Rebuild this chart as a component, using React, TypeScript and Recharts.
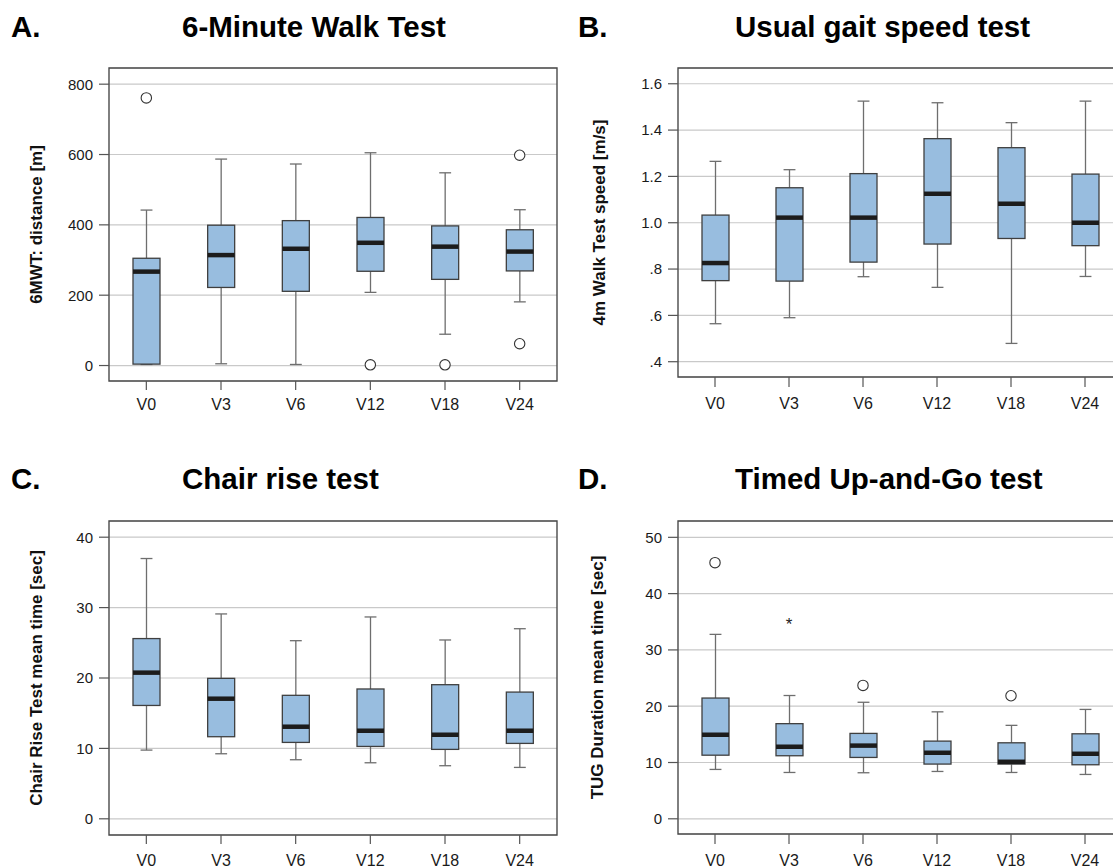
import React from 'react';
import { ComposedChart, Bar, Scatter, XAxis, YAxis, CartesianGrid, ReferenceArea } from 'recharts';

const FONT = '"Liberation Sans", Arial, Helvetica, sans-serif';
const BOX_FILL = '#98bddf';
const BOX_STROKE = '#3f3f3f';
const WHISKER = '#6e6e6e';
const FRAME = '#4a4a4a';
const GRID = '#c9c9c9';

const visits = ['V0', 'V3', 'V6', 'V12', 'V18', 'V24'];

// A. 6-Minute Walk Test (m)
const walkMin = [3, 5, 3, 208, 89, 181];
const walkQ1 = [4, 222, 211, 268, 245, 269];
const walkMedian = [267, 314, 332, 349, 338, 324];
const walkQ3 = [305, 399, 412, 421, 397, 386];
const walkMax = [442, 587, 573, 605, 548, 443];
const walkOutlierHigh = [761, null, null, null, null, 598];
const walkOutlierLow = [null, null, null, 2, 2, 62];
const walkTicks = [0, 200, 400, 600, 800];
const walkMinorTicks = [100, 300, 500, 700];

// B. Usual gait speed (m/s)
const gaitMin = [0.564, 0.59, 0.767, 0.721, 0.479, 0.768];
const gaitQ1 = [0.75, 0.748, 0.83, 0.908, 0.932, 0.901];
const gaitMedian = [0.826, 1.022, 1.022, 1.125, 1.082, 1.0];
const gaitQ3 = [1.033, 1.151, 1.212, 1.363, 1.324, 1.21];
const gaitMax = [1.265, 1.229, 1.525, 1.518, 1.432, 1.525];
const gaitTicks = [0.4, 0.6, 0.8, 1.0, 1.2, 1.4, 1.6];
const gaitMinorTicks = [0.5, 0.7, 0.9, 1.1, 1.3, 1.5];

// C. Chair rise test (sec)
const chairMin = [9.76, 9.24, 8.39, 7.96, 7.54, 7.3];
const chairQ1 = [16.1, 11.66, 10.85, 10.28, 9.86, 10.71];
const chairMedian = [20.76, 17.06, 13.08, 12.51, 11.94, 12.51];
const chairQ3 = [25.6, 19.95, 17.54, 18.44, 19.05, 18.0];
const chairMax = [36.97, 29.1, 25.3, 28.67, 25.4, 27.0];
const chairTicks = [0, 10, 20, 30, 40];
const chairMinorTicks = [5, 15, 25, 35];

// D. Timed Up-and-Go (sec)
const tugMin = [8.77, 8.23, 8.18, 8.41, 8.23, 7.88];
const tugQ1 = [11.3, 11.2, 10.9, 9.72, 9.72, 9.6];
const tugMedian = [14.93, 12.8, 13.0, 11.73, 10.13, 11.55];
const tugQ3 = [21.45, 16.9, 15.17, 13.8, 13.5, 15.1];
const tugMax = [32.76, 21.9, 20.7, 19.0, 16.6, 19.43];
const tugOutlier = [45.5, null, 23.7, null, 21.86, null];
const tugExtreme = [null, 35.25, null, null, null, null];
const tugTicks = [0, 10, 20, 30, 40, 50];
const tugMinorTicks = [5, 15, 25, 35, 45];

type Num = number | null;

function buildRows(
  min: number[], q1: number[], med: number[], q3: number[], max: number[],
  extras: Record<string, Num[]>
) {
  return visits.map((visit, i) => {
    const row: any = {
      visit,
      min: min[i], q1: q1[i], median: med[i], q3: q3[i], max: max[i],
      range: [min[i], max[i]],
    };
    Object.keys(extras).forEach((k) => { row[k] = extras[k][i]; });
    return row;
  });
}

const walkRows = buildRows(walkMin, walkQ1, walkMedian, walkQ3, walkMax, { outA: walkOutlierHigh, outB: walkOutlierLow });
const gaitRows = buildRows(gaitMin, gaitQ1, gaitMedian, gaitQ3, gaitMax, {});
const chairRows = buildRows(chairMin, chairQ1, chairMedian, chairQ3, chairMax, {});
const tugRows = buildRows(tugMin, tugQ1, tugMedian, tugQ3, tugMax, { outA: tugOutlier, ext: tugExtreme });

const BoxShape = (props: any) => {
  const { x, y, width, height, payload } = props;
  if (!payload || !Number.isFinite(x) || !Number.isFinite(y)) return <g />;
  const { min, q1, median, q3, max } = payload;
  const top = Math.min(y, y + height);
  const h = Math.abs(height);
  const span = max - min;
  const py = (v: number) => top + ((max - v) / span) * h;
  const cx = x + width / 2;
  const cap = width * 0.22;
  return (
    <g>
      <line x1={cx} x2={cx} y1={py(max)} y2={py(q3)} stroke={WHISKER} strokeWidth={1.3} />
      <line x1={cx} x2={cx} y1={py(q1)} y2={py(min)} stroke={WHISKER} strokeWidth={1.3} />
      <line x1={cx - cap} x2={cx + cap} y1={py(max)} y2={py(max)} stroke={WHISKER} strokeWidth={1.3} />
      <line x1={cx - cap} x2={cx + cap} y1={py(min)} y2={py(min)} stroke={WHISKER} strokeWidth={1.3} />
      <rect x={x} y={py(q3)} width={width} height={Math.max(py(q1) - py(q3), 0.5)} fill={BOX_FILL} stroke={BOX_STROKE} strokeWidth={1.3} />
      <line x1={x} x2={x + width} y1={py(median)} y2={py(median)} stroke="#1c1c1c" strokeWidth={4.5} />
    </g>
  );
};

const makeCircle = (key: string) => (props: any) => {
  const { cx, cy, payload } = props;
  if (!payload || payload[key] == null || !Number.isFinite(cx) || !Number.isFinite(cy)) return <g />;
  return <circle cx={cx} cy={cy} r={5.2} fill="#fff" stroke="#333" strokeWidth={1.1} />;
};

const makeStar = (key: string) => (props: any) => {
  const { cx, cy, payload } = props;
  if (!payload || payload[key] == null || !Number.isFinite(cx) || !Number.isFinite(cy)) return <g />;
  return (
    <text x={cx} y={cy + 9.6} textAnchor="middle" fontSize={17} fontFamily={FONT} fill="#222">*</text>
  );
};

const AxisTitle = (props: any) => {
  const { viewBox, text, offsetX } = props;
  const vb = viewBox || {};
  const cx = (vb.x ?? 0) + offsetX;
  const cy = (vb.y ?? 0) + (vb.height ?? 0) / 2;
  return (
    <text
      x={cx}
      y={cy}
      transform={`rotate(-90, ${cx}, ${cy})`}
      textAnchor="middle"
      dominantBaseline="central"
      fontWeight="bold"
      fontSize={17}
      fill="#111"
      fontFamily={FONT}
    >
      {text}
    </text>
  );
};

interface PanelProps {
  rows: any[];
  left: number;
  top: number;
  width: number;
  height: number;
  margin: { top: number; right: number; bottom: number; left: number };
  yAxisWidth: number;
  domain: [number, number];
  ticks: number[];
  minorTicks: number[];
  tickFormat?: (v: number) => string;
  yLabel: string;
  labelX: number;
  xTickSize: number;
  xTickMargin: number;
  circleKeys: string[];
  starKeys: string[];
}

const Panel = (p: PanelProps) => (
  <div style={{ position: 'absolute', left: p.left, top: p.top }}>
    <ComposedChart width={p.width} height={p.height} data={p.rows} margin={p.margin}>
      <CartesianGrid
        yAxisId="main"
        vertical={false}
        horizontal
        stroke={GRID}
        strokeWidth={1.2}
      />
      <XAxis
        dataKey="visit"
        type="category"
        allowDuplicatedCategory={false}
        interval={0}
        height={30}
        axisLine={false}
        tickSize={p.xTickSize}
        tickMargin={p.xTickMargin}
        tickLine={{ stroke: '#555', strokeWidth: 1.2 }}
        tick={{ fontSize: 16, fill: '#1a1a1a', fontFamily: FONT }}
      />
      <YAxis
        yAxisId="minor"
        width={0}
        type="number"
        domain={p.domain}
        allowDataOverflow
        ticks={p.minorTicks}
        tick={false}
        tickSize={5}
        axisLine={false}
        tickLine={{ stroke: '#555', strokeWidth: 1.2 }}
      />
      <YAxis
        yAxisId="main"
        width={p.yAxisWidth}
        type="number"
        domain={p.domain}
        allowDataOverflow
        ticks={p.ticks}
        interval={0}
        tickFormatter={p.tickFormat}
        tickSize={10}
        tickMargin={6}
        axisLine={false}
        tickLine={{ stroke: '#555', strokeWidth: 1.2 }}
        tick={{ fontSize: 15, fill: '#1a1a1a', fontFamily: FONT }}
        label={<AxisTitle text={p.yLabel} offsetX={p.labelX} />}
      />
      <Bar yAxisId="main" dataKey="range" barSize={27} shape={BoxShape} isAnimationActive={false} />
      {p.circleKeys.map((k) => (
        <Scatter key={k} yAxisId="main" dataKey={k} shape={makeCircle(k)} isAnimationActive={false} />
      ))}
      {p.starKeys.map((k) => (
        <Scatter key={k} yAxisId="main" dataKey={k} shape={makeStar(k)} isAnimationActive={false} />
      ))}
      <ReferenceArea
        yAxisId="main"
        y1={p.domain[0]}
        y2={p.domain[1]}
        fill="none"
        fillOpacity={0}
        stroke={FRAME}
        strokeWidth={1.4}
      />
    </ComposedChart>
  </div>
);

const gaitFormat = (v: number) => (v < 1 ? v.toFixed(1).replace(/^0/, '') : v.toFixed(1));

const titleStyle = { fontFamily: FONT, fontWeight: 'bold' as const, fontSize: 29.5, fill: '#000' };

export default function App() {
  return (
    <div
      style={{
        position: 'absolute',
        left: 0,
        top: 0,
        width: 1113,
        height: 868,
        overflow: 'hidden',
        background: '#fff',
        fontFamily: FONT,
      }}
    >
      <Panel
        rows={walkRows}
        left={0}
        top={0}
        width={580}
        height={430}
        margin={{ top: 68, right: 23, bottom: 19, left: 0 }}
        yAxisWidth={109}
        domain={[-44, 846]}
        ticks={walkTicks}
        minorTicks={walkMinorTicks}
        yLabel="6MWT: distance [m]"
        labelX={36}
        xTickSize={9}
        xTickMargin={9}
        circleKeys={['outA', 'outB']}
        starKeys={[]}
      />
      <Panel
        rows={gaitRows}
        left={570}
        top={0}
        width={560}
        height={430}
        margin={{ top: 68, right: 8, bottom: 23, left: 0 }}
        yAxisWidth={108}
        domain={[0.334, 1.668]}
        ticks={gaitTicks}
        minorTicks={gaitMinorTicks}
        tickFormat={gaitFormat}
        yLabel="4m Walk Test speed [m/s]"
        labelX={29}
        xTickSize={10}
        xTickMargin={11}
        circleKeys={[]}
        starKeys={[]}
      />
      <Panel
        rows={chairRows}
        left={0}
        top={440}
        width={580}
        height={428}
        margin={{ top: 81, right: 23, bottom: 3, left: 0 }}
        yAxisWidth={109}
        domain={[-2.3, 42.3]}
        ticks={chairTicks}
        minorTicks={chairMinorTicks}
        yLabel="Chair Rise Test mean time [sec]"
        labelX={36}
        xTickSize={9}
        xTickMargin={11}
        circleKeys={[]}
        starKeys={[]}
      />
      <Panel
        rows={tugRows}
        left={570}
        top={440}
        width={560}
        height={428}
        margin={{ top: 81, right: 8, bottom: 4, left: 0 }}
        yAxisWidth={108}
        domain={[-2.7, 52.9]}
        ticks={tugTicks}
        minorTicks={tugMinorTicks}
        yLabel="TUG Duration mean time [sec]"
        labelX={27}
        xTickSize={10}
        xTickMargin={11}
        circleKeys={['outA']}
        starKeys={['ext']}
      />
      <svg
        width={1113}
        height={868}
        style={{ position: 'absolute', left: 0, top: 0, pointerEvents: 'none' }}
      >
        <text x={11} y={37} {...titleStyle}>A.</text>
        <text x={182} y={37} {...titleStyle}>6-Minute Walk Test</text>
        <text x={578} y={37} {...titleStyle}>B.</text>
        <text x={735} y={37} {...titleStyle}>Usual gait speed test</text>
        <text x={11} y={489} {...titleStyle}>C.</text>
        <text x={182} y={489} {...titleStyle}>Chair rise test</text>
        <text x={578} y={489} {...titleStyle}>D.</text>
        <text x={735} y={489} {...titleStyle}>Timed Up-and-Go test</text>
      </svg>
    </div>
  );
}
